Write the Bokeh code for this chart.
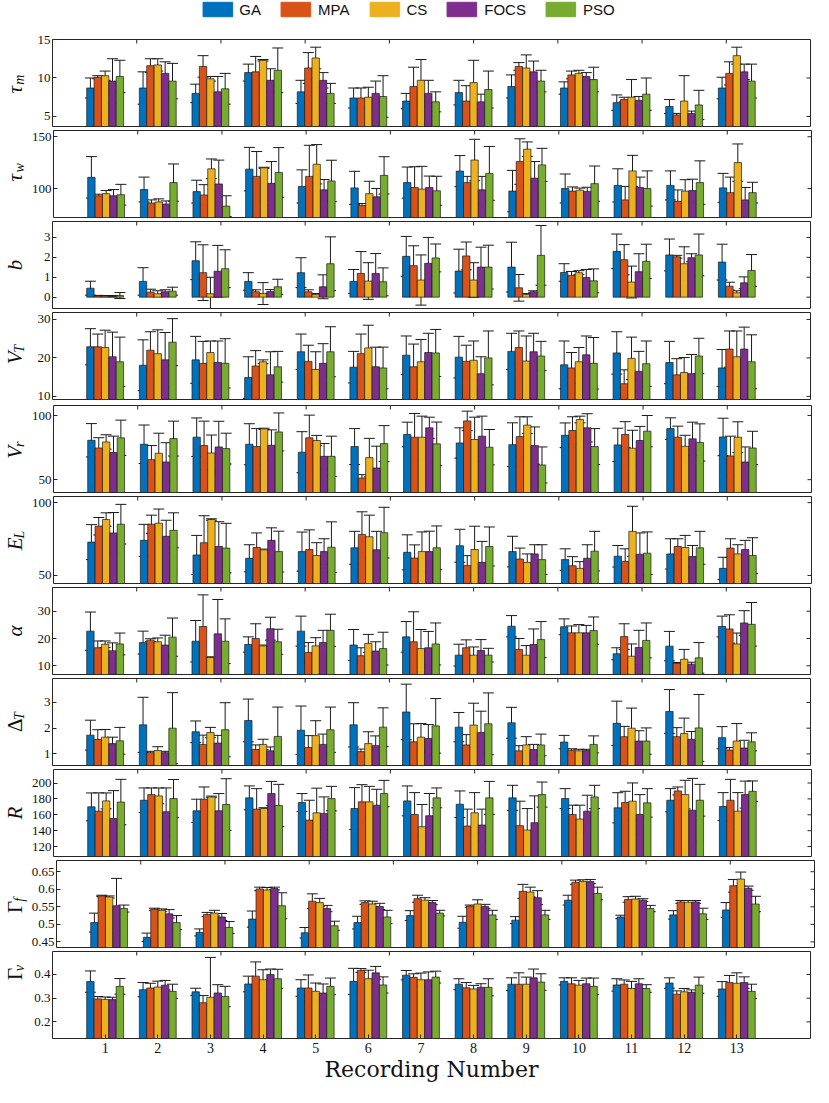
import math
from bokeh.plotting import figure
from bokeh.models import (ColumnDataSource, Whisker, TeeHead, FixedTicker, Legend, LegendItem,
                          Range1d, CustomJSTickFormatter)
from bokeh.layouts import column, row
from bokeh.transform import dodge
from bokeh.core.properties import value
from bokeh.embed import file_html
from bokeh.resources import INLINE

recordings = list(range(1, 14))
methods = ["GA", "MPA", "CS", "FOCS", "PSO"]
colors = ["#0072BD", "#D95319", "#EDB120", "#7E2F8E", "#77AC30"]
x_ticks = [str(r) for r in recordings]

# ---- data: rows = GA, MPA, CS, FOCS, PSO ; columns = recordings 1..13 ----
tau_m_mean = [
    [8.7, 8.7, 8.0, 10.7, 8.2, 7.4, 7.0, 8.1, 8.9, 8.7, 6.8, 6.3, 8.7],
    [10.1, 11.6, 11.5, 10.8, 11.3, 7.4, 8.9, 7.0, 11.5, 10.4, 7.2, 5.2, 10.6],
    [10.3, 11.7, 9.9, 12.3, 12.6, 7.5, 9.7, 9.4, 11.3, 10.6, 7.5, 7.0, 12.9],
    [9.6, 10.6, 8.2, 9.7, 9.7, 8.0, 8.0, 6.9, 10.8, 10.2, 7.1, 5.4, 10.8],
    [10.2, 9.6, 8.6, 11.0, 8.0, 7.6, 6.9, 8.5, 9.6, 9.8, 7.9, 6.5, 9.6]]
tau_m_err = [
    [1.3, 2.1, 1.2, 1.1, 1.5, 1.3, 1.0, 1.6, 1.5, 0.8, 1.0, 0.9, 1.4],
    [0.2, 0.9, 1.4, 2.0, 2.0, 1.3, 2.5, 2.0, 0.5, 0.5, 0.3, 0.2, 1.5],
    [0.6, 0.8, 0.3, 0.1, 1.4, 1.3, 2.7, 2.9, 1.7, 0.4, 2.3, 3.3, 1.1],
    [2.9, 1.5, 2.0, 1.5, 1.0, 1.6, 1.7, 1.0, 1.4, 0.5, 0.5, 0.3, 1.0],
    [2.1, 2.3, 2.0, 2.9, 1.3, 2.7, 1.3, 2.4, 1.4, 1.6, 2.1, 1.9, 2.2]]

tau_w_mean = [
    [110.8, 99, 97, 118.7, 102, 100.6, 105.7, 116.8, 97.5, 100, 103, 103, 100.6],
    [93, 86, 93.7, 111.7, 111.7, 83.5, 101, 105.7, 126, 97.5, 89, 87.6, 96],
    [95, 87, 119, 120, 123.4, 95, 99.4, 127.5, 138, 98.4, 117, 97.5, 125],
    [93, 85, 104.4, 105, 98.7, 92, 101, 98.7, 110, 97.2, 101, 98, 89],
    [94, 105.7, 83, 115.5, 107.3, 112.7, 97.8, 114.6, 122.8, 104.7, 100, 105.7, 96]]
tau_w_err = [
    [20, 12, 11, 21, 16, 16, 15, 15, 20, 14, 16, 14, 14],
    [1.5, 3, 10, 24, 30, 2, 20, 6, 22, 4, 13, 11, 15],
    [3, 3, 9.5, 0.5, 19, 12, 22, 20, 7, 2, 15, 11, 18],
    [6, 3, 23, 21, 10, 8, 11, 13, 16, 4, 10, 11, 12],
    [10, 18, 10, 24, 20, 18, 14, 26, 16, 17, 17, 21, 10]]

b_mean = [
    [0.45, 0.79, 1.83, 0.79, 1.23, 0.79, 2.05, 1.31, 1.51, 1.24, 2.3, 2.12, 1.76],
    [0.06, 0.25, 1.23, 0.27, 0.27, 1.19, 1.58, 2.07, 0.47, 1.09, 1.88, 2.03, 0.55],
    [0.05, 0.17, 0.17, 0.18, 0.13, 0.81, 0.86, 0.86, 0.13, 1.23, 0.76, 1.68, 0.22],
    [0.05, 0.27, 1.3, 0.28, 0.52, 1.19, 1.7, 1.51, 0.27, 0.99, 1.28, 1.98, 0.72],
    [0.08, 0.3, 1.43, 0.52, 1.68, 0.77, 1.97, 1.51, 2.1, 0.82, 1.8, 2.12, 1.34]]
b_err = [
    [0.35, 0.69, 0.95, 0.44, 0.75, 0.6, 1.0, 1.1, 1.25, 0.44, 0.87, 0.8, 0.9],
    [0.03, 0.15, 1.4, 0.1, 0.1, 1.1, 1.0, 0.7, 0.67, 0.2, 0.76, 0.07, 0.2],
    [0.03, 0.15, 0.83, 0.55, 0.05, 0.92, 1.26, 0.87, 0.05, 0.1, 0.8, 0.85, 0.1],
    [0.03, 0.1, 1.3, 0.1, 0.6, 1.0, 1.3, 1.0, 0.05, 0.4, 0.9, 0.2, 0.3],
    [0.15, 0.2, 0.95, 0.38, 1.35, 0.7, 0.7, 1.1, 1.5, 0.6, 0.86, 1.05, 0.8]]

vt_mean = [
    [22.9, 18.1, 19.5, 14.9, 21.6, 17.6, 20.7, 20.2, 21.7, 18.2, 21.3, 18.8, 17.4],
    [22.9, 22.0, 18.6, 17.9, 19.1, 21.1, 17.7, 19.1, 22.7, 17.4, 13.3, 15.6, 22.3],
    [22.7, 21.1, 21.4, 19.0, 17.0, 22.6, 19.0, 19.4, 19.2, 19.0, 19.9, 16.2, 20.3],
    [20.3, 19.5, 18.8, 15.6, 18.6, 17.7, 21.4, 15.9, 21.6, 20.8, 16.5, 15.9, 22.3],
    [19.0, 24.1, 18.6, 17.7, 21.6, 17.4, 21.3, 20.0, 20.5, 18.6, 18.5, 20.5, 19.0]]
vt_err = [
    [4.7, 6.6, 6.1, 5.4, 4.6, 4.1, 5.0, 5.4, 4.7, 6.2, 5.5, 5.5, 4.8],
    [3.3, 4.8, 5.7, 4.0, 4.2, 5.1, 5.9, 4.2, 4.3, 4.0, 3.6, 4.2, 4.7],
    [4.5, 6.2, 3.0, 0.5, 4.6, 5.9, 5.8, 5.0, 6.5, 3.7, 5.5, 3.9, 6.7],
    [6.4, 7.1, 5.6, 6.0, 5.1, 5.1, 5.0, 4.4, 4.8, 4.9, 5.2, 5.0, 5.7],
    [6.4, 6.1, 6.4, 4.0, 6.5, 5.4, 6.1, 7.0, 3.8, 6.7, 5.9, 4.6, 7.0]]

vr_mean = [
    [80.7, 77.6, 83.1, 77.6, 71.4, 75.8, 85.2, 78.6, 77.3, 84.6, 77.1, 89.8, 83.3],
    [74.7, 65.6, 76.6, 75.8, 82.6, 51.3, 83.1, 95.8, 83.6, 88.3, 85.2, 83.1, 68.5],
    [79.4, 70.6, 70.8, 89.6, 80.5, 67.2, 83.1, 81.3, 92.5, 96.9, 74.5, 76.0, 83.1],
    [71.1, 63.8, 75.5, 76.8, 68.2, 59.1, 90.4, 83.9, 76.6, 90.4, 80.5, 81.8, 63.8],
    [82.6, 82.0, 74.2, 87.2, 68.2, 78.1, 77.9, 75.3, 61.5, 75.8, 87.8, 79.0, 74.7]]
vr_err = [
    [13, 15, 15, 16, 16, 14, 9.6, 11.8, 17, 9.6, 13, 8.4, 14.6],
    [8, 11, 19, 14, 17.7, 2.6, 18.5, 7.6, 15.4, 10.7, 10, 8.6, 15.4],
    [5.6, 15.6, 14, 0.5, 4, 15, 16.4, 17.4, 6.5, 2.6, 14, 8.6, 12],
    [12.8, 15, 20, 12, 10, 17, 8.3, 15.6, 14.5, 11, 11, 13, 11.7],
    [13.8, 13.6, 12, 14.8, 15.7, 14, 17, 13.8, 14, 14, 12.2, 14.5, 13]]

el_mean = [
    [72.9, 74.1, 64.1, 61.8, 66.4, 69.0, 65.9, 70.4, 66.4, 60.9, 63.2, 64.8, 54.9],
    [83.8, 85.2, 72.5, 69.2, 67.8, 78.2, 62.0, 56.9, 61.3, 56.7, 59.7, 69.9, 68.8],
    [88.4, 85.9, 88.4, 67.6, 63.7, 76.6, 66.4, 67.8, 59.0, 54.9, 80.3, 69.2, 64.8],
    [79.2, 76.9, 69.9, 74.1, 66.4, 67.6, 66.4, 59.0, 64.8, 61.8, 64.6, 63.0, 67.8],
    [85.2, 81.0, 68.8, 66.4, 69.4, 79.4, 69.0, 69.9, 60.9, 66.7, 65.3, 69.0, 63.7]]
el_err = [
    [12, 11, 13.4, 9.3, 13.4, 11.3, 12, 11.3, 10.5, 7.4, 7.4, 10.4, 7.6],
    [6, 6.2, 18.5, 10, 13.5, 15.5, 9, 6.7, 7.5, 6.2, 8.6, 5.3, 6.4],
    [4.6, 9.7, 0.5, 0.5, 8.8, 14.8, 13.5, 16, 5.8, 4.6, 17.2, 8.3, 6.3],
    [14, 11, 17, 8.6, 8.8, 12.7, 14, 14.4, 6.3, 9.3, 14.6, 7.6, 6.3],
    [13.6, 12, 17, 14, 17.4, 17.4, 15, 13.4, 10.2, 13.6, 14.6, 11.3, 12.2]]

alpha_mean = [
    [22.7, 18.5, 19.0, 17.8, 22.7, 17.6, 20.6, 13.9, 24.5, 24.3, 14.4, 17.2, 24.4],
    [16.6, 19.4, 24.4, 20.0, 14.9, 13.7, 18.8, 16.6, 16.0, 22.1, 20.7, 10.9, 23.5],
    [17.9, 18.8, 13.0, 17.3, 17.3, 18.2, 16.3, 13.9, 13.9, 22.1, 13.5, 12.4, 18.0],
    [15.5, 17.6, 21.7, 23.6, 18.5, 15.4, 16.6, 15.6, 17.8, 22.1, 16.7, 10.6, 25.7],
    [18.0, 20.5, 19.0, 18.8, 23.0, 16.3, 18.0, 13.9, 19.6, 22.9, 19.3, 12.9, 25.2]]
alpha_err = [
    [7, 4.2, 7.6, 2.8, 5.5, 5.7, 5.6, 4, 3.9, 2.9, 2.2, 5.4, 3.8],
    [2.5, 0.5, 11.6, 5.4, 3.6, 2.9, 11, 2.9, 4, 2.5, 4.7, 0.3, 5.2],
    [1.2, 1.4, 0.3, 0.3, 3, 3.3, 7, 3, 3.5, 3, 4.5, 3.6, 4],
    [2.9, 3.6, 12.6, 4.2, 4.5, 3.4, 6, 4, 5.7, 2.7, 6.3, 0.7, 4.5],
    [4, 7, 8.2, 4.6, 5.9, 6, 7.7, 2.5, 6.6, 5, 6.4, 5.6, 8]]

delta_t_mean = [
    [1.73, 2.13, 1.86, 2.30, 1.92, 2.13, 2.63, 2.04, 2.21, 1.46, 2.19, 2.65, 1.63],
    [1.56, 1.05, 1.37, 1.17, 1.25, 1.09, 1.47, 1.35, 1.12, 1.14, 1.67, 1.67, 1.15],
    [1.65, 1.13, 1.83, 1.37, 1.71, 1.40, 1.65, 2.12, 1.35, 1.12, 2.00, 1.79, 1.50],
    [1.40, 1.05, 1.42, 1.12, 1.37, 1.32, 1.60, 1.83, 1.17, 1.13, 1.50, 1.57, 1.23],
    [1.51, 2.00, 1.94, 1.68, 1.94, 2.04, 2.09, 2.17, 1.35, 1.37, 1.50, 2.01, 1.47]]
delta_t_err = [
    [0.58, 1.07, 0.42, 0.83, 0.94, 0.86, 1.08, 0.57, 0.6, 0.26, 0.86, 0.85, 0.43],
    [0.38, 0.05, 0.36, 0.18, 0.46, 0.1, 0.7, 0.4, 0.2, 0.06, 0.4, 0.35, 0.1],
    [0.3, 0.15, 0.2, 0.2, 0.58, 0.46, 0.53, 0.85, 0.32, 0.06, 0.78, 0.6, 0.68],
    [0.25, 0.05, 0.3, 0.15, 0.4, 0.38, 0.54, 0.83, 0.2, 0.05, 0.4, 0.3, 0.3],
    [0.52, 1.38, 1.05, 1.14, 0.88, 0.75, 1.06, 1.2, 0.42, 0.33, 0.51, 1.3, 0.35]]

r_mean = [
    [170, 178.3, 165, 181.3, 175.4, 167.9, 177.5, 173.3, 181.3, 180.4, 168.8, 178.3, 170.4],
    [164.6, 185.4, 179.6, 167.1, 153.3, 176.3, 160.4, 145.8, 146.3, 160.4, 175.4, 190, 178.3],
    [177.5, 183.8, 182.5, 167.9, 162.5, 176.3, 145, 162.5, 140.8, 154.6, 177.1, 185.4, 164.6],
    [155.4, 163.8, 165, 186.7, 161.7, 172.1, 158.8, 147.1, 150, 164.6, 160.4, 165.8, 185.4],
    [176, 180.4, 172.9, 171.7, 180.4, 186.7, 181.3, 181.3, 185.4, 182.5, 175, 178.3, 189.6]]
r_err = [
    [17.5, 15.5, 14.6, 15, 11.3, 26.3, 18.8, 16.7, 15.8, 12.5, 19, 14.6, 17.5],
    [23, 8.4, 15.4, 25.8, 25, 21.6, 27.5, 21.3, 30.8, 11.7, 14.2, 5, 26.3],
    [10, 10, 1, 1, 31, 19.5, 28, 25.4, 27, 17.5, 23, 18, 23.3],
    [35, 30, 21.7, 15.3, 20.8, 20, 28, 20, 33.8, 20, 25, 40, 17],
    [28.6, 24, 32.5, 26.6, 15.4, 16.6, 12.5, 20.7, 15.8, 14.6, 17.9, 20, 13]]

gamma_f_mean = [
    [0.505, 0.463, 0.477, 0.515, 0.476, 0.505, 0.525, 0.506, 0.512, 0.569, 0.521, 0.527, 0.541],
    [0.581, 0.543, 0.528, 0.601, 0.566, 0.562, 0.573, 0.552, 0.594, 0.620, 0.571, 0.564, 0.610],
    [0.578, 0.540, 0.532, 0.598, 0.562, 0.558, 0.569, 0.558, 0.592, 0.622, 0.572, 0.563, 0.629],
    [0.553, 0.530, 0.521, 0.602, 0.545, 0.551, 0.562, 0.551, 0.576, 0.622, 0.569, 0.564, 0.603],
    [0.545, 0.505, 0.491, 0.553, 0.496, 0.521, 0.532, 0.527, 0.527, 0.588, 0.545, 0.530, 0.558]]
gamma_f_err = [
    [0.027, 0.012, 0.010, 0.023, 0.015, 0.018, 0.014, 0.017, 0.010, 0.014, 0.005, 0.012, 0.021],
    [0.002, 0.003, 0.006, 0.005, 0.021, 0.005, 0.010, 0.003, 0.020, 0.006, 0.008, 0.004, 0.018],
    [0.003, 0.004, 0.008, 0.007, 0.012, 0.008, 0.007, 0.012, 0.014, 0.005, 0.008, 0.005, 0.020],
    [0.078, 0.012, 0.010, 0.004, 0.009, 0.009, 0.006, 0.006, 0.020, 0.006, 0.004, 0.004, 0.006],
    [0.010, 0.020, 0.017, 0.037, 0.013, 0.019, 0.008, 0.013, 0.013, 0.018, 0.009, 0.016, 0.022]]

gamma_v_mean = [
    [0.370, 0.336, 0.327, 0.360, 0.343, 0.371, 0.397, 0.359, 0.359, 0.371, 0.356, 0.364, 0.339],
    [0.297, 0.343, 0.281, 0.393, 0.343, 0.417, 0.388, 0.344, 0.359, 0.361, 0.359, 0.317, 0.366],
    [0.295, 0.347, 0.304, 0.378, 0.329, 0.382, 0.378, 0.339, 0.359, 0.355, 0.341, 0.327, 0.363],
    [0.294, 0.355, 0.322, 0.400, 0.322, 0.407, 0.378, 0.346, 0.386, 0.361, 0.361, 0.325, 0.366],
    [0.350, 0.329, 0.307, 0.382, 0.350, 0.356, 0.389, 0.346, 0.368, 0.350, 0.341, 0.355, 0.329]]
gamma_v_err = [
    [0.045, 0.030, 0.015, 0.033, 0.035, 0.055, 0.020, 0.023, 0.027, 0.015, 0.026, 0.022, 0.031],
    [0.010, 0.020, 0.030, 0.060, 0.055, 0.008, 0.015, 0.022, 0.048, 0.025, 0.018, 0.014, 0.030],
    [0.010, 0.025, 0.168, 0.042, 0.035, 0.036, 0.028, 0.015, 0.030, 0.020, 0.030, 0.014, 0.044],
    [0.010, 0.020, 0.035, 0.023, 0.038, 0.027, 0.033, 0.015, 0.037, 0.024, 0.021, 0.010, 0.024],
    [0.033, 0.030, 0.043, 0.040, 0.035, 0.034, 0.025, 0.036, 0.035, 0.035, 0.016, 0.034, 0.030]]

# panel definitions: (symbol, subscript, symbol italic?, means, errors, y-range, y-ticks)
panels = [
    ("τ", "m", True, tau_m_mean, tau_m_err, (3.7, 15.0), [5, 10, 15]),
    ("τ", "w", True, tau_w_mean, tau_w_err, (72, 156), [100, 150]),
    ("b", "", True, b_mean, b_err, (-0.57, 3.8), [0, 1, 2, 3]),
    ("V", "T", True, vt_mean, vt_err, (9.2, 31.8), [10, 20, 30]),
    ("V", "r", True, vr_mean, vr_err, (40, 107.8), [50, 100]),
    ("E", "L", True, el_mean, el_err, (44.5, 104.2), [50, 100]),
    ("α", "", True, alpha_mean, alpha_err, (6.8, 38.7), [10, 20, 30]),
    ("Δ", "T", False, delta_t_mean, delta_t_err, (0.55, 3.93), [1, 2, 3]),
    ("R", "", True, r_mean, r_err, (107.5, 217), [120, 140, 160, 180, 200]),
    ("Γ", "f", False, gamma_f_mean, gamma_f_err, (0.434, 0.682), [0.45, 0.5, 0.55, 0.6, 0.65]),
    ("Γ", "v", False, gamma_v_mean, gamma_v_err, (0.13, 0.497), [0.2, 0.3, 0.4]),
]

top_ticks = [1.6 * i for i in range(1, 9)]
X_END = 14.4

# layout constants (pixels)
FW = 758
FH = 87
LABW = 28          # width of the strip carrying the rotated y labels
LEFT = 24          # room for tick labels
RIGHT = 3
LEG_H = 30
borders = [(9, 1), (3, 2), (2, 2), (2, 5), (1, 1), (3, 2), (2, 2), (2, 2), (2, 2), (2, 3), (1, 0)]
SERIF = "Liberation Serif"
AX = "#262626"
TXT = "#111111"
TICK = 4
bar_w = 0.14
offsets = [(j - 2) * bar_w for j in range(5)]
fmt = CustomJSTickFormatter(code="return String(tick)")


def make_panel(idx, spec):
    sym, sub, ital, mean, err, yr, yt = spec
    last = idx == len(panels) - 1
    btop, bbot = borders[idx]
    p = figure(frame_width=FW, frame_height=FH, x_range=Range1d(0, X_END),
               y_range=Range1d(*yr), output_backend="svg", toolbar_location=None,
               min_border_left=LEFT, min_border_right=RIGHT, min_border_top=btop,
               min_border_bottom=bbot, x_axis_location="below" if last else None)
    p.outline_line_color = AX
    p.outline_line_width = 1
    for g in p.grid:
        g.grid_line_color = None

    ya = p.yaxis[0]
    ya.ticker = FixedTicker(ticks=yt)
    ya.formatter = fmt
    ya.major_tick_in = TICK
    ya.major_tick_out = 0
    ya.minor_tick_line_color = None
    ya.axis_line_color = None
    ya.major_tick_line_color = AX
    ya.major_label_text_font = SERIF
    ya.major_label_text_font_size = "13px"
    ya.major_label_text_color = TXT
    ya.major_label_standoff = 2

    # mirrored tick marks on the top and right edges of the box
    dy = (yr[1] - yr[0]) * TICK / FH
    dx = X_END * TICK / FW
    p.segment(x0=top_ticks, x1=top_ticks, y0=[yr[1]] * len(top_ticks),
              y1=[yr[1] - dy] * len(top_ticks), line_color=AX, line_width=1)
    p.segment(x0=[X_END - dx] * len(yt), x1=[X_END] * len(yt), y0=yt, y1=yt,
              line_color=AX, line_width=1)

    data = {"rec": recordings}
    for j, m in enumerate(methods):
        data[m] = mean[j]
        data[m + "_up"] = [v + e for v, e in zip(mean[j], err[j])]
        data[m + "_lo"] = [v - e for v, e in zip(mean[j], err[j])]
    src = ColumnDataSource(data)

    for j, m in enumerate(methods):
        p.vbar(x=dodge("rec", offsets[j]), top=m, bottom=0, width=bar_w, source=src,
               fill_color=colors[j], line_color="#1a1a1a", line_width=0.7)
    for j, m in enumerate(methods):
        w = Whisker(base=dodge("rec", offsets[j]), upper=m + "_up", lower=m + "_lo",
                    source=src, line_color="#1a1a1a", line_width=1,
                    upper_head=TeeHead(size=11, line_color="#1a1a1a", line_width=1),
                    lower_head=TeeHead(size=11, line_color="#1a1a1a", line_width=1))
        p.add_layout(w)

    if last:
        xa = p.below[0]
        xa.ticker = FixedTicker(ticks=recordings)
        xa.major_label_overrides = {r: t for r, t in zip(recordings, x_ticks)}
        xa.major_tick_in = TICK
        xa.major_tick_out = 0
        xa.minor_tick_line_color = None
        xa.axis_line_color = None
        xa.major_tick_line_color = AX
        xa.major_label_text_font = SERIF
        xa.major_label_text_font_size = "14px"
        xa.major_label_text_color = TXT
        xa.major_label_standoff = 4
        xa.axis_label = "Recording Number"
        xa.axis_label_text_font = "DejaVu Serif"
        xa.axis_label_text_font_size = "22px"
        xa.axis_label_text_font_style = "normal"
        xa.axis_label_text_color = TXT
        xa.axis_label_standoff = 1

    # strip with the rotated y label (symbol + subscript)
    total_h = btop + FH + bbot
    lab = figure(width=LABW, height=total_h, x_range=Range1d(0, LABW), y_range=Range1d(0, total_h),
                 output_backend="svg", toolbar_location=None, min_border=0,
                 x_axis_location=None, y_axis_location=None)
    lab.outline_line_color = None
    for g in lab.grid:
        g.grid_line_color = None
    ymid = bbot + FH / 2.0
    sw = 7 if sub else 0
    mw = 11
    lab.text(x=[14], y=[ymid - sw / 2.0], text=[sym], angle=math.pi / 2,
             text_align="center", text_baseline="middle",
             text_font=value(SERIF), text_font_size=value("21px"),
             text_font_style="italic" if ital else "normal", text_color=TXT)
    if sub:
        lab.text(x=[19], y=[ymid - sw / 2.0 + mw / 2.0], text=[sub], angle=math.pi / 2,
                 text_align="left", text_baseline="middle",
                 text_font=value(SERIF), text_font_size=value("14px"),
                 text_font_style="italic", text_color=TXT)
    return p, lab, src


built = [make_panel(i, s) for i, s in enumerate(panels)]
rows = [row(lab, p, spacing=0) for (p, lab, src) in built]

# legend strip on top
lg = figure(width=813, height=LEG_H, x_range=Range1d(0, 14.4), y_range=Range1d(0, 1),
            output_backend="svg", toolbar_location=None, min_border=0,
            x_axis_location=None, y_axis_location=None)
lg.outline_line_color = None
for g in lg.grid:
    g.grid_line_color = None
leg_src = built[0][2]
items = []
for j, (m, c) in enumerate(zip(methods, colors)):
    r = lg.vbar(x=dodge("rec", offsets[j]), top=m, bottom=0, width=bar_w, source=leg_src,
                fill_color=c, line_color=c, line_width=1, visible=False)
    items.append(LegendItem(label=m, renderers=[r]))
legend = Legend(items=items, orientation="horizontal", location="top_center",
                glyph_width=37, glyph_height=18, label_standoff=4, spacing=16,
                padding=0, margin=0, border_line_color=None, background_fill_alpha=0,
                inactive_fill_alpha=0, label_text_font="Liberation Sans",
                label_text_font_size="15px", label_height=18, label_text_color=TXT)
lg.add_layout(legend, "center")

layout = column(lg, *rows, spacing=0)

open("out.html", "w").write(file_html(layout, INLINE))
